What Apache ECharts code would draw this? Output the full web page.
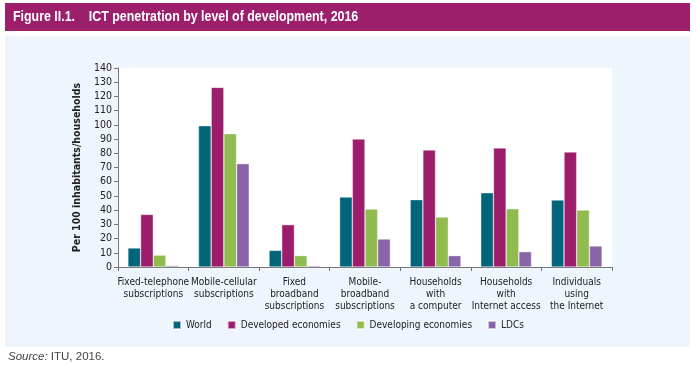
<!DOCTYPE html>
<html><head><meta charset="utf-8">
<script src="https://cdn.jsdelivr.net/npm/echarts@6/dist/echarts.min.js"></script>
<style>html,body{margin:0;padding:0;background:#fff}#c{width:696px;height:370px}</style>
</head><body><div id="c"></div>
<script>
var categories = ['Fixed-telephone\nsubscriptions','Mobile-cellular\nsubscriptions','Fixed\nbroadband\nsubscriptions','Mobile-\nbroadband\nsubscriptions','Households\nwith\na computer','Households\nwith\nInternet access','Individuals\nusing\nthe Internet'];
var world = [13.4, 99.4, 11.7, 49.2, 47.4, 52.2, 47.1];
var developed = [37.0, 126.4, 29.8, 90.0, 82.3, 83.7, 80.9];
var developing = [8.4, 93.8, 8.0, 40.8, 35.2, 41.0, 40.1];
var ldcs = [1.0, 72.7, 0.9, 19.7, 8.0, 10.8, 14.8];
var seriesNames = ['World','Developed economies','Developing economies','LDCs'];
var colors = ['#00647a','#9b1d6b','#8fbb4f','#8a64a8'];
var yTicks = {min:0, max:140, interval:10};

var FONT = "'Liberation Sans Narrow','DejaVu Sans Condensed',sans-serif";
var chart = echarts.init(document.getElementById('c'));
var datas = [world, developed, developing, ldcs];
chart.setOption({
  animation:false,
  backgroundColor:'#ffffff',
  graphic:[
    {type:'rect', z:-10, shape:{x:5,y:3,width:685,height:28}, style:{fill:'#9b1f6b'}},
    {type:'rect', z:-10, shape:{x:5,y:36,width:685,height:311}, style:{fill:'#eef5fc'}},
    {type:'rect', z:-9, shape:{x:118,y:68,width:494,height:199}, style:{fill:'#ffffff'}},
    {type:'text', x:13, y:8.5, scaleX:0.8, style:{text:'Figure II.1.    ICT penetration by level of development, 2016', fill:'#ffffff', font:"bold 15.5px 'Liberation Sans', Arial, sans-serif"}},
    {type:'text', x:8, y:351, style:{rich:{i:{fontStyle:'italic',fontSize:11.5,fill:'#444',fontFamily:'Liberation Sans, Arial, sans-serif'},n:{fontSize:11.5,fill:'#444',fontFamily:'Liberation Sans, Arial, sans-serif'}}, text:'{i|Source:}{n| ITU, 2016.}'}}
  ],
  grid:{left:118, top:68, right:84, bottom:103},
  legend:{
    data:seriesNames, top:315, left:'center', itemWidth:8, itemHeight:8, itemGap:15, icon:'rect',
    textStyle:{fontFamily:FONT, fontSize:10, color:'#222'}
  },
  xAxis:{
    type:'category', data:categories,
    axisLine:{lineStyle:{color:'#777'}},
    axisTick:{show:true, length:4, lineStyle:{color:'#777'}},
    axisLabel:{interval:0, fontFamily:FONT, fontSize:10, color:'#222', lineHeight:12, margin:9}
  },
  yAxis:{
    type:'value', min:yTicks.min, max:yTicks.max, interval:yTicks.interval,
    name:'Per 100 inhabitants/households', nameLocation:'middle', nameGap:28, nameRotate:90,
    nameTextStyle:{fontFamily:FONT, fontSize:10.5, fontWeight:'bold', color:'#222'},
    axisLine:{show:true, lineStyle:{color:'#777'}},
    axisTick:{show:true, length:4, lineStyle:{color:'#777'}},
    splitLine:{show:false},
    axisLabel:{fontFamily:FONT, fontSize:10.5, color:'#222', margin:6}
  },
  series: seriesNames.map(function(n,i){
    return {name:n, type:'bar', data:datas[i], barGap:'0%', barCategoryGap:'28%',
      itemStyle:{color:colors[i], borderColor:'rgba(255,255,255,0.6)', borderWidth:0.6}};
  })
});
</script></body></html>
